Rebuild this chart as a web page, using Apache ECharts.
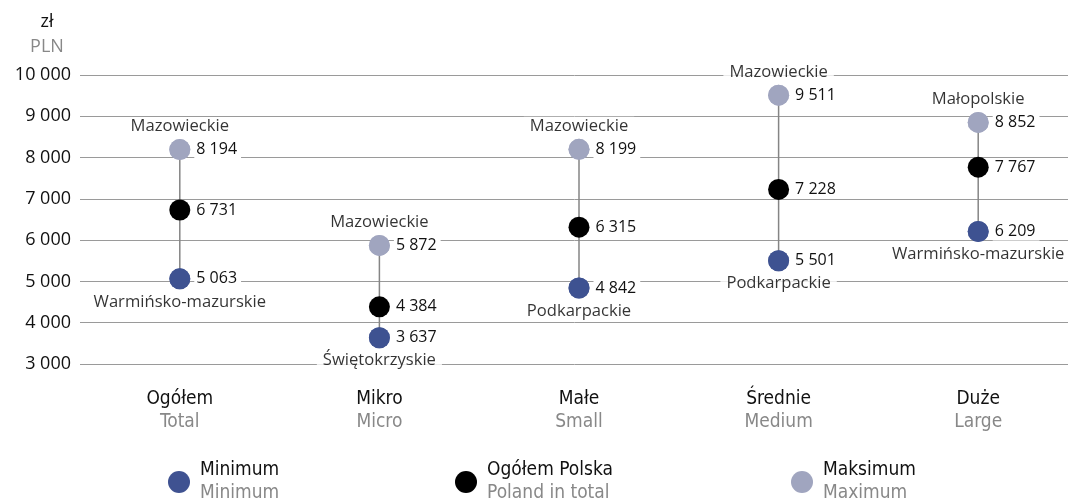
<!DOCTYPE html>
<html>
<head>
<meta charset="utf-8">
<script src="https://cdn.jsdelivr.net/npm/echarts@6/dist/echarts.min.js"></script>
<style>
  html, body { margin: 0; padding: 0; background: #fff; }
  #chart { width: 1068px; height: 501px; }
</style>
</head>
<body>
<div id="chart"></div>
<script>
// kategorie / categories
const categoriesPl = ['Ogółem', 'Mikro', 'Małe', 'Średnie', 'Duże'];
const categoriesEn = ['Total', 'Micro', 'Small', 'Medium', 'Large'];

// wartości / values
const minValues = [5063, 3637, 4842, 5501, 6209];
const totalValues = [6731, 4384, 6315, 7228, 7767];
const maxValues = [8194, 5872, 8199, 9511, 8852];

// województwa / regions
const minRegions = ['Warmińsko-mazurskie', 'Świętokrzyskie', 'Podkarpackie', 'Podkarpackie', 'Warmińsko-mazurskie'];
const maxRegions = ['Mazowieckie', 'Mazowieckie', 'Mazowieckie', 'Mazowieckie', 'Małopolskie'];

// legenda / legend
const legendPl = ['Minimum', 'Ogółem Polska', 'Maksimum'];
const legendEn = ['Minimum', 'Poland in total', 'Maximum'];

const FONT = '"Open Sans", "Noto Sans", sans-serif';
const NARROW = '"Liberation Sans Narrow", "DejaVu Sans Condensed", sans-serif';
const COLOR_MIN = '#3f5291';
const COLOR_TOTAL = '#000000';
const COLOR_MAX = '#a0a5bf';

// format liczb ze spacją
function fmt(v) {
  return String(v).replace(/\B(?=(\d{3})+(?!\d))/g, ' ');
}

const chart = echarts.init(document.getElementById('chart'));

const valueLabel = {
  show: true,
  position: 'right',
  distance: 4,
  formatter: p => fmt(p.value[1]),
  fontFamily: FONT,
  fontSize: 16,
  color: '#111',
  backgroundColor: '#fff',
  padding: [1, 4, 1, 2]
};

// etykiety województw (ta sama kropka, druga etykieta)
function regionSeries(values, regions, pos, color) {
  return {
    type: 'scatter',
    silent: true,
    symbolSize: 21,
    itemStyle: { color: color },
    z: 4,
    data: values.map((v, i) => [i, v]),
    label: {
      show: true,
      position: pos,
      distance: 3,
      formatter: p => regions[p.dataIndex],
      fontFamily: FONT,
      fontSize: 16.6,
      color: '#000',
      backgroundColor: '#fff',
      padding: [1, 6]
    }
  };
}

function makeLegend(i, left) {
  return {
    left: left,
    top: 461,
    padding: 0,
    icon: 'circle',
    itemWidth: 22,
    itemHeight: 22,
    selectedMode: false,
    data: [legendPl[i]],
    formatter: () => '{a|' + legendPl[i] + '}\n{b|' + legendEn[i] + '}',
    textStyle: {
      rich: {
        a: { fontFamily: NARROW, fontSize: 19, color: '#111', lineHeight: 23, padding: [0, 0, 0, 5] },
        b: { fontFamily: NARROW, fontSize: 19, color: '#888', lineHeight: 23, padding: [0, 0, 0, 5] }
      }
    }
  };
}

const option = {
  animation: false,
  title: {
    text: '{a|zł}\n{b|PLN}',
    left: 22,
    top: 4,
    textStyle: {
      rich: {
        a: { fontFamily: FONT, fontSize: 18, fontWeight: 'normal', color: '#111', lineHeight: 25, align: 'center', width: 40 },
        b: { fontFamily: FONT, fontSize: 18, fontWeight: 'normal', color: '#888', lineHeight: 25, align: 'center', width: 40 }
      }
    }
  },
  legend: [makeLegend(0, 168), makeLegend(1, 455), makeLegend(2, 791)],
  grid: {
    left: 80,
    right: -10,
    top: 75,
    bottom: 137,
    containLabel: false,
    outerBoundsMode: 'none'
  },
  xAxis: {
    type: 'category',
    data: categoriesPl,
    boundaryGap: true,
    axisLine: { show: false },
    axisTick: { show: false },
    splitLine: { show: false },
    axisLabel: {
      margin: 24,
      formatter: (v, i) => '{a|' + v + '}\n{b|' + categoriesEn[i] + '}',
      rich: {
        a: { fontFamily: NARROW, fontSize: 19, color: '#111', lineHeight: 23 },
        b: { fontFamily: NARROW, fontSize: 19, color: '#888', lineHeight: 23 }
      }
    }
  },
  yAxis: {
    type: 'value',
    min: 3000,
    max: 10000,
    interval: 1000,
    axisLine: { show: false },
    axisTick: { show: false },
    splitLine: { lineStyle: { color: '#9a9a9a', width: 1 } },
    axisLabel: {
      margin: 9,
      formatter: v => fmt(v),
      fontFamily: FONT,
      fontSize: 18,
      color: '#111'
    }
  },
  series: [
    {
      type: 'custom',
      silent: true,
      z: 1,
      data: categoriesPl.map((c, i) => [i, minValues[i], maxValues[i]]),
      renderItem: (params, api) => {
        const lo = api.coord([api.value(0), api.value(1)]);
        const hi = api.coord([api.value(0), api.value(2)]);
        return {
          type: 'line',
          shape: { x1: lo[0], y1: lo[1], x2: hi[0], y2: hi[1] },
          style: { stroke: '#858585', lineWidth: 1.5 }
        };
      }
    },
    regionSeries(maxValues, maxRegions, 'top', COLOR_MAX),
    regionSeries(minValues, minRegions, 'bottom', COLOR_MIN),
    {
      name: legendPl[0],
      type: 'scatter',
      symbolSize: 21,
      z: 3,
      itemStyle: { color: COLOR_MIN, opacity: 1 },
      data: minValues.map((v, i) => [i, v]),
      label: valueLabel
    },
    {
      name: legendPl[1],
      type: 'scatter',
      symbolSize: 21,
      z: 3,
      itemStyle: { color: COLOR_TOTAL, opacity: 1 },
      data: totalValues.map((v, i) => [i, v]),
      label: valueLabel
    },
    {
      name: legendPl[2],
      type: 'scatter',
      symbolSize: 21,
      z: 3,
      itemStyle: { color: COLOR_MAX, opacity: 1 },
      data: maxValues.map((v, i) => [i, v]),
      label: valueLabel
    }
  ]
};

option && chart.setOption(option);
</script>
</body>
</html>
